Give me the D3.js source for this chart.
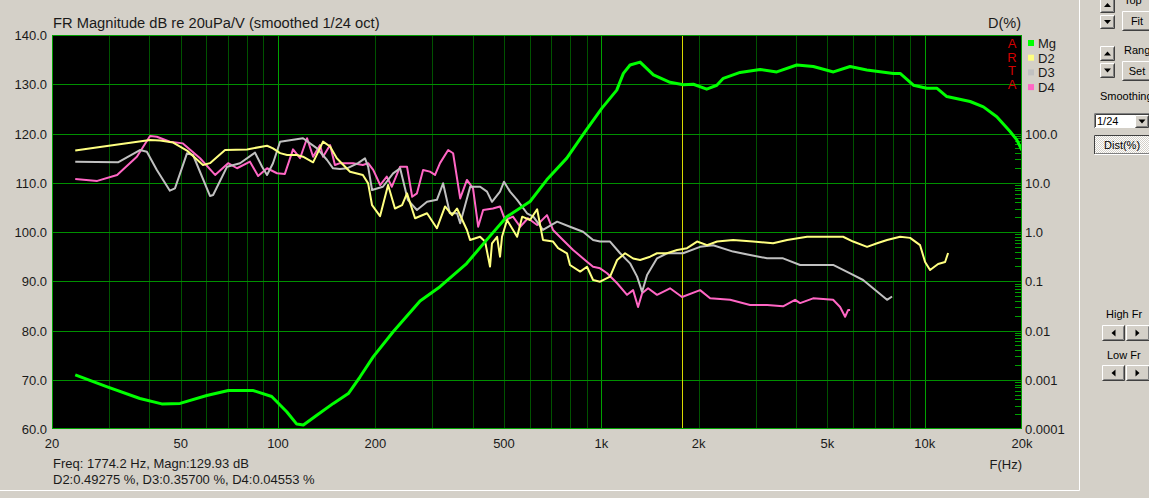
<!DOCTYPE html>
<html>
<head>
<meta charset="utf-8">
<script src="https://d3js.org/d3.v7.min.js"></script>
<style>
body { margin: 0; background: #d4d0c8; }
svg { display: block; font-family: "Liberation Sans", Arial, sans-serif; }
.lbl { font-size: 13px; fill: #1a1a1a; }
.ctl { font-size: 11px; fill: #000; }
</style>
</head>
<body>
<script>

// frequency response (Hz, dB)
var mgData = [[23.6,71.0],[29.5,68.6],[37.4,66.2],[43.7,65.1],[49.8,65.2],[60.2,66.8],[70.2,67.8],[83.9,67.8],
  [95.6,66.6],[106.4,63.5],[114.3,61.0],[119.8,60.8],[131.8,62.8],[148.3,65.2],[165,67.2],[179.4,70.6],
  [197.2,74.7],[227.4,79.8],[275,86.0],[317,88.9],[383,93.6],[442,98.4],[510,103.1],[602,106.2],
  [678,110.6],[782,115.0],[891,120.4],[1003,125.1],[1116,128.8],[1170,132.2],[1227,133.9],[1318,134.5],
  [1449,131.9],[1631,130.4],[1793,129.9],[1926,130.0],[2118,129.0],[2276,129.8],[2384,131.2],[2686,132.4],
  [3097,133.0],[3488,132.5],[4022,133.9],[4526,133.6],[5222,132.5],[5880,133.6],[6622,132.9],[8004,132.2],
  [8396,132.2],[9230,129.8],[10154,129.2],[10902,129.2],[11710,127.5],[13822,126.5],[15194,125.4],
  [16712,123.4],[18374,120.4],[19272,118.7],[20000,116.6]];

// harmonic distortion (Hz, %)
var d2Data = [[23.6,45],[29.6,55.7],[40.2,73.8],[43.2,72],[47.4,65.5],[52.3,45],[58.6,22.9],[61.6,25],
  [68.6,46],[80.2,47.5],[92.5,56.5],[96.5,50],[101.5,40],[106.7,36.6],[114.5,36.6],[119.5,33.8],
  [128.4,26],[137.8,68.5],[144.9,54.5],[152,31.4],[155.5,27],[167,16.7],[183,14.4],[190,9.7],
  [195.4,3.5],[206.8,2.1],[219,9.0],[230,3.0],[242,3.5],[250.6,6.1],[265.4,1.9],[289,2.4],[310,1.19],
  [328.6,3.3],[345.4,2.2],[357.8,3.0],[384,1.1],[392.6,0.69],[421.6,0.80],[437,0.64],[452.6,0.198],
  [459,0.59],[476,0.80],[486,0.315],[493,0.80],[511,1.75],[549,0.80],[569,2.05],[602,1.75],[633,2.9],
  [660,0.69],[709,0.64],[735,0.47],[783,0.37],[800,0.214],[860,0.157],[903,0.197],[943,0.106],
  [991,0.098],[1064,0.124],[1119,0.27],[1184,0.37],[1254,0.29],[1318,0.27],[1415,0.315],[1487,0.37],
  [1597,0.37],[1715,0.43],[1841,0.47],[1977,0.64],[2124,0.54],[2281,0.64],[2556,0.69],[2946,0.64],
  [3398,0.59],[3754,0.69],[4328,0.80],[4992,0.80],[5594,0.80],[6008,0.64],[6636,0.50],[7126,0.59],
  [7650,0.69],[8396,0.80],[9016,0.76],[9678,0.54],[10030,0.246],[10392,0.169],[11004,0.224],
  [11566,0.246],[11816,0.375]];

var d3Data = [[23.6,26.8],[32,26],[37.4,46.2],[39.3,42.7],[42.2,18.2],[46.3,6.9],[48,7.7],[52.3,39.6],
  [54.6,36.6],[61.6,5.4],[63,5.65],[69.6,21.2],[76.3,24.9],[84.9,40.8],[89.3,21.2],[92.5,14.4],
  [96.5,24.9],[101.5,68],[119.5,80],[132,50],[141.8,29],[148,19.6],[155.5,19],[163.5,19.6],[176.8,25],
  [185.8,31.3],[190,21.2],[195.4,7.1],[211,8.3],[227,15.5],[238.6,19.7],[252,4.5],[269,2.8],[289,4.1],
  [310,4.5],[324,9.75],[340,2.4],[358,2.4],[366,1.5],[393,8.3],[422,8.3],[443,6.6],[459,4.1],[486,6.6],
  [500,10.5],[522,6.6],[549,4.5],[589,2.4],[616,2.05],[660,1.1],[730,1.62],[800,1.28],[878,1.01],
  [943,0.69],[991,0.64],[1064,0.64],[1143,0.37],[1227,0.231],[1290,0.124],[1337,0.061],[1385,0.134],
  [1487,0.292],[1597,0.37],[1790,0.37],[2020,0.50],[2217,0.54],[2556,0.40],[2884,0.34],[3256,0.292],
  [3648,0.292],[4118,0.214],[4648,0.214],[5210,0.214],[5880,0.145],[6450,0.106],[6926,0.072],
  [7650,0.042],[7928,0.049]];

var d4Data = [[23.6,11.9],[27.6,10.9],[31.8,14.4],[36.6,33.8],[40.2,89],[42.2,86],[46.3,68],[50.8,63],
  [57.4,31.5],[63.9,14.4],[70.1,25],[74.7,19.7],[81.9,26.8],[86.8,13.7],[92.5,19.7],[99.3,15.6],
  [105,15.1],[111.3,47.7],[117,31.5],[123,80],[128.4,33.8],[134.9,58.4],[137.8,33.8],[144.9,58.4],
  [150,22.9],[155.5,25],[170.6,25],[183,22.9],[190,25],[197,18.2],[207,9.0],[217,13.3],[225,8.3],
  [238.6,21.2],[250.6,21.2],[260,5.2],[269,6.1],[281,18.2],[295,16.8],[306,14.4],[317,25],[336,46.2],
  [348,39.7],[366,4.8],[384,11.4],[401,7.7],[416,1.28],[431,2.8],[462,3.0],[486,3.3],[504,1.75],
  [533,2.05],[561,1.28],[593,1.9],[633,1.39],[679,2.2],[709,1.1],[761,0.69],[818,0.43],[903,0.25],
  [943,0.197],[991,0.183],[1042,0.145],[1119,0.091],[1201,0.053],[1254,0.066],[1299,0.030],
  [1337,0.057],[1395,0.072],[1487,0.053],[1631,0.072],[1777,0.048],[2020,0.066],[2170,0.045],
  [2502,0.042],[2884,0.033],[3256,0.033],[3648,0.031],[3974,0.042],[4118,0.036],[4518,0.045],
  [5210,0.042],[5476,0.030],[5674,0.019],[5796,0.026],[5880,0.026]];

var freqTicks = [20, 50, 100, 200, 500, 1000, 2000, 5000, 10000, 20000];
var freqTickLabels = ["20", "50", "100", "200", "500", "1k", "2k", "5k", "10k", "20k"];
var dbTicks = [60, 70, 80, 90, 100, 110, 120, 130, 140];
var distTicks = [100, 10, 1, 0.1, 0.01, 0.001, 0.0001];
var distTickLabels = ["100.0", "10.0", "1.0", "0.1", "0.01", "0.001", "0.0001"];
var seriesNames = ["Mg", "D2", "D3", "D4"];
var seriesColors = ["#00ff00", "#ffff80", "#c0c0c0", "#ff66c4"];
var cursorFreq = 1774.2;

var W = 1149, H = 498;
var pL = 52, pR = 1022, pT = 35, pB = 429;

var svg = d3.select("body").append("svg")
    .attr("width", W)
    .attr("height", H);

var x = d3.scaleLog().domain([20, 20000]).range([pL, pR]);
var y = d3.scaleLinear().domain([60, 140]).range([pB, pT]);
var yD = d3.scaleLog().domain([0.0001, 10000]).range([pB, pT]);

// outer panel edges
svg.append("line").attr("x1", 1079.5).attr("x2", 1079.5).attr("y1", 0).attr("y2", 490.5)
    .attr("stroke", "#fff");
svg.append("line").attr("x1", 0).attr("x2", 1079.5).attr("y1", 490.5).attr("y2", 490.5)
    .attr("stroke", "#fff");

// plot background
svg.append("rect")
    .attr("x", pL).attr("y", pT)
    .attr("width", pR - pL).attr("height", pB - pT)
    .attr("fill", "#000");

// vertical grid
var vgrid = [];
[10, 100, 1000, 10000].forEach(function(dec) {
    for (var k = 1; k < 10; k++) {
        var f = dec * k;
        if (f > 20 && f < 20000) vgrid.push(f);
    }
});
svg.append("g").selectAll("line")
    .data(vgrid)
  .enter().append("line")
    .attr("x1", function(d) { return Math.round(x(d)) + 0.5; })
    .attr("x2", function(d) { return Math.round(x(d)) + 0.5; })
    .attr("y1", pT).attr("y2", pB)
    .attr("stroke", function(d) { return (d == 100 || d == 1000 || d == 10000) ? "#00a000" : "#005200"; });

// horizontal grid
svg.append("g").selectAll("line")
    .data(dbTicks.slice(1, -1))
  .enter().append("line")
    .attr("x1", pL).attr("x2", pR)
    .attr("y1", function(d) { return Math.round(y(d)) + 0.5; })
    .attr("y2", function(d) { return Math.round(y(d)) + 0.5; })
    .attr("stroke", "#009000");

// minor ticks of the distortion axis (only below 100 %)
var dminor = [];
for (var e = -4; e < 2; e++) {
    for (var k = 2; k < 10; k++) dminor.push(k * Math.pow(10, e));
}
svg.append("g").selectAll("line")
    .data(dminor)
  .enter().append("line")
    .attr("x1", pR - 7).attr("x2", pR)
    .attr("y1", function(d) { return Math.round(yD(d)) + 0.5; })
    .attr("y2", function(d) { return Math.round(yD(d)) + 0.5; })
    .attr("stroke", "#00a000");

// cursor
svg.append("line")
    .attr("x1", Math.round(x(cursorFreq)) + 0.5).attr("x2", Math.round(x(cursorFreq)) + 0.5)
    .attr("y1", pT).attr("y2", pB)
    .attr("stroke", "#d8d800");

svg.append("clipPath").attr("id", "clip")
  .append("rect")
    .attr("x", pL).attr("y", pT)
    .attr("width", pR - pL).attr("height", pB - pT);

var plot = svg.append("g").attr("clip-path", "url(#clip)");

var mgLine = d3.line()
    .x(function(d) { return x(d[0]); })
    .y(function(d) { return y(d[1]); });

var dLine = d3.line()
    .x(function(d) { return x(d[0]); })
    .y(function(d) { return yD(d[1]); });

[d4Data, d3Data, d2Data].forEach(function(data, i) {
    plot.append("path")
        .datum(data)
        .attr("fill", "none")
        .attr("stroke", seriesColors[3 - i])
        .attr("stroke-width", 2)
        .attr("stroke-linejoin", "round")
        .attr("d", dLine);
});

plot.append("path")
    .datum(mgData)
    .attr("fill", "none")
    .attr("stroke", seriesColors[0])
    .attr("stroke-width", 3)
    .attr("stroke-linejoin", "round")
    .attr("d", mgLine);

// plot frame
svg.append("rect")
    .attr("x", pL + 0.5).attr("y", pT + 0.5)
    .attr("width", pR - pL - 1).attr("height", pB - pT - 1)
    .attr("fill", "none")
    .attr("stroke", "#00a000");

// axes labels
svg.append("g").selectAll("text")
    .data(dbTicks)
  .enter().append("text")
    .attr("class", "lbl")
    .attr("x", 47)
    .attr("y", function(d) { return y(d) + 5; })
    .attr("text-anchor", "end")
    .text(function(d) { return d3.format(".1f")(d); });

svg.append("g").selectAll("text")
    .data(freqTicks)
  .enter().append("text")
    .attr("class", "lbl")
    .attr("x", function(d) { return x(d); })
    .attr("y", 448)
    .attr("text-anchor", "middle")
    .text(function(d, i) { return freqTickLabels[i]; });

svg.append("g").selectAll("text")
    .data(distTicks)
  .enter().append("text")
    .attr("class", "lbl")
    .attr("x", 1025)
    .attr("y", function(d) { return yD(d) + 5; })
    .attr("text-anchor", "start")
    .text(function(d, i) { return distTickLabels[i]; });

svg.append("text").attr("class", "lbl").attr("x", 53).attr("y", 28)
    .style("font-size", "14.7px")
    .text("FR Magnitude dB re 20uPa/V (smoothed 1/24 oct)");
svg.append("text").attr("class", "lbl").attr("x", 1021).attr("y", 28)
    .attr("text-anchor", "end").style("font-size", "14.5px")
    .text("D(%)");
svg.append("text").attr("class", "lbl").attr("x", 1022).attr("y", 469)
    .attr("text-anchor", "end")
    .text("F(Hz)");
svg.append("text").attr("class", "lbl").attr("x", 53).attr("y", 468)
    .text("Freq: 1774.2 Hz, Magn:129.93 dB");
svg.append("text").attr("class", "lbl").attr("x", 53).attr("y", 484)
    .text("D2:0.49275 %, D3:0.35700 %, D4:0.04553 %");

// ARTA mark
svg.append("g").selectAll("text")
    .data(["A", "R", "T", "A"])
  .enter().append("text")
    .attr("x", 1012)
    .attr("y", function(d, i) { return 48 + i * 13.5; })
    .attr("text-anchor", "middle")
    .style("font-size", "13px")
    .attr("fill", "#d40000")
    .text(function(d) { return d; });

// legend
var leg = svg.append("g").selectAll("g")
    .data(seriesNames)
  .enter().append("g")
    .attr("transform", function(d, i) { return "translate(1028," + (43 + i * 14.7) + ")"; });
leg.append("rect")
    .attr("x", 0).attr("y", -3).attr("width", 6).attr("height", 6)
    .attr("fill", function(d, i) { return seriesColors[i]; });
leg.append("text")
    .attr("class", "lbl")
    .attr("x", 10).attr("y", 5)
    .text(function(d) { return d; });

// control panel
function button(x0, y0, w, h, pressed) {
    var g = svg.append("g");
    g.append("rect").attr("x", x0).attr("y", y0).attr("width", w).attr("height", h)
        .attr("fill", pressed ? "url(#dither)" : "#d4d0c8");
    g.append("path").attr("d", "M" + (x0 + 0.5) + "," + (y0 + h - 1) + "V" + (y0 + 0.5) + "H" + (x0 + w - 1))
        .attr("fill", "none").attr("stroke", pressed ? "#404040" : "#fff");
    g.append("path").attr("d", "M" + (x0 + 0.5) + "," + (y0 + h - 0.5) + "H" + (x0 + w - 0.5) + "V" + (y0 + 0.5))
        .attr("fill", "none").attr("stroke", pressed ? "#fff" : "#404040");
    g.append("path").attr("d", "M" + (x0 + 1.5) + "," + (y0 + h - 1.5) + "H" + (x0 + w - 1.5) + "V" + (y0 + 1.5))
        .attr("fill", "none").attr("stroke", "#808080");
    return g;
}

var pat = svg.append("defs").append("pattern").attr("id", "dither")
    .attr("width", 2).attr("height", 2).attr("patternUnits", "userSpaceOnUse");
pat.append("rect").attr("width", 2).attr("height", 2).attr("fill", "#fff");
pat.append("rect").attr("width", 1).attr("height", 1).attr("fill", "#d4d0c8");
pat.append("rect").attr("x", 1).attr("y", 1).attr("width", 1).attr("height", 1).attr("fill", "#d4d0c8");

function tri(cx, cy, dir) {
    var p;
    if (dir == "up") p = [[cx - 3.5, cy + 2], [cx + 3.5, cy + 2], [cx, cy - 2]];
    else if (dir == "down") p = [[cx - 3.5, cy - 2], [cx + 3.5, cy - 2], [cx, cy + 2]];
    else if (dir == "left") p = [[cx + 2, cy - 3.5], [cx + 2, cy + 3.5], [cx - 2, cy]];
    else p = [[cx - 2, cy - 3.5], [cx - 2, cy + 3.5], [cx + 2, cy]];
    svg.append("path").attr("d", "M" + p.join("L") + "Z").attr("fill", "#000");
}

button(1100, -2, 15, 15); tri(1107.5, 5, "up");
button(1100, 15, 15, 14); tri(1107.5, 22, "down");
button(1100, 46, 15, 15); tri(1107.5, 53.5, "up");
button(1100, 63, 15, 15); tri(1107.5, 70.5, "down");
svg.append("text").attr("class", "ctl").attr("x", 1124).attr("y", 4).text("Top");
button(1122, 11, 34, 20);
svg.append("text").attr("class", "ctl").attr("x", 1137).attr("y", 25).attr("text-anchor", "middle").text("Fit");
svg.append("text").attr("class", "ctl").attr("x", 1124).attr("y", 54).text("Rang");
button(1122, 61, 34, 20);
svg.append("text").attr("class", "ctl").attr("x", 1137).attr("y", 75).attr("text-anchor", "middle").text("Set");
svg.append("text").attr("class", "ctl").attr("x", 1100).attr("y", 100).text("Smoothing");

svg.append("rect").attr("x", 1094).attr("y", 113).attr("width", 60).attr("height", 15).attr("fill", "#fff");
svg.append("path").attr("d", "M1094.5,128V113.5H1154").attr("fill", "none").attr("stroke", "#808080");
svg.append("path").attr("d", "M1095.5,127V114.5H1154").attr("fill", "none").attr("stroke", "#404040");
svg.append("text").attr("class", "ctl").attr("x", 1097).attr("y", 125).text("1/24");
button(1135, 115, 14, 13); tri(1142, 121.5, "down");

button(1094, 135, 62, 20, true);
svg.append("text").attr("class", "ctl").attr("x", 1104).attr("y", 149).text("Dist(%)");

svg.append("text").attr("class", "ctl").attr("x", 1106).attr("y", 318).text("High Fr");
button(1102, 325, 23, 16); tri(1113.5, 333, "left");
button(1126, 325, 24, 16); tri(1137.5, 333, "right");
svg.append("text").attr("class", "ctl").attr("x", 1107).attr("y", 359).text("Low Fr");
button(1102, 365, 23, 16); tri(1113.5, 373, "left");
button(1126, 365, 24, 16); tri(1137.5, 373, "right");

</script>
</body>
</html>
